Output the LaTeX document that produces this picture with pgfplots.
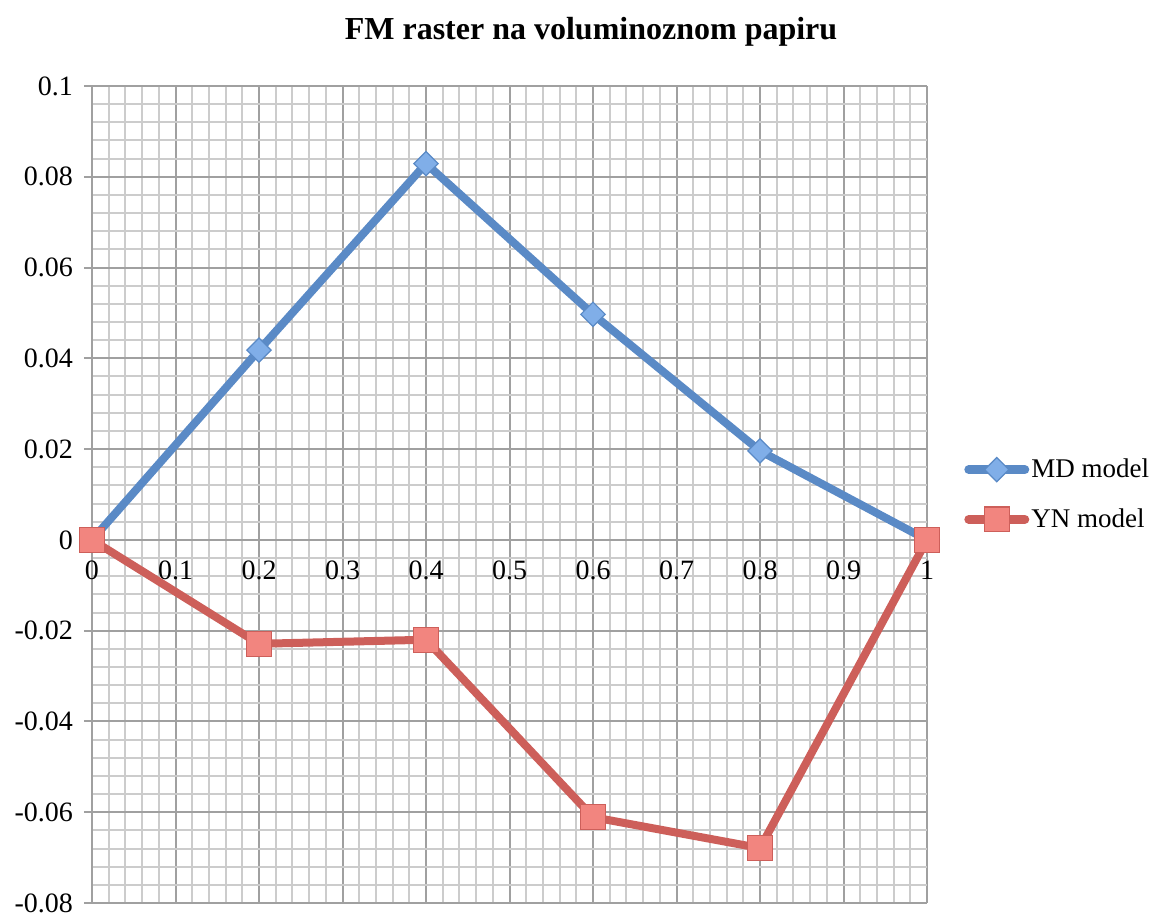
\documentclass[border=0pt]{standalone}
\usepackage{fontspec}
\setmainfont{Liberation Serif}
\usepackage{pgfplots}
\pgfplotsset{compat=1.18}
\definecolor{mdline}{HTML}{5A8AC6}
\definecolor{mdfill}{HTML}{80AEE8}
\definecolor{ynline}{HTML}{CD5F5A}
\definecolor{ynfill}{HTML}{F2857F}
\definecolor{majgrid}{HTML}{A0A0A0}
\definecolor{mingrid}{HTML}{CCCCCC}
\begin{document}
\begin{tikzpicture}
\useasboundingbox (-46pt,-8pt) rectangle (532pt,451.5pt);
\begin{axis}[
  at={(0,0)}, anchor=south west,
  scale only axis, width=417.5pt, height=408.5pt,
  xmin=0, xmax=1, ymin=-0.08, ymax=0.1,
  axis x line=middle, axis y line=left,
  axis line style={-, majgrid, line width=1pt},
  hide obscured x ticks=false, hide obscured y ticks=false,
  xtick={0,0.1,0.2,0.3,0.4,0.5,0.6,0.7,0.8,0.9,1},
  xticklabels={0,0.1,0.2,0.3,0.4,0.5,0.6,0.7,0.8,0.9,1},
  ytick={-0.08,-0.06,-0.04,-0.02,0,0.02,0.04,0.06,0.08,0.1},
  yticklabels={-0.08,-0.06,-0.04,-0.02,0,0.02,0.04,0.06,0.08,0.1},
  minor x tick num=4, minor y tick num=4,
  grid=both,
  major grid style={majgrid, line width=1pt},
  minor grid style={mingrid, line width=1pt},
  major tick length=4pt, minor tick length=0pt,
  tick style={majgrid, line width=1pt},
  xtick align=center, ytick align=outside,
  ticklabel style={font=\fontsize{14}{16}\selectfont},
  xticklabel style={yshift=-5pt},
  yticklabel style={xshift=-2pt},
  clip=false,
  legend style={at={(1.037,0.5)}, anchor=west, draw=none, fill=none,
    font=\fontsize{13.5}{16}\selectfont, row sep=10pt,
    nodes={inner xsep=1pt}},
  legend cell align=left,
  legend image code/.code={%
    \draw[#1, line width=4.5pt, line cap=round, mark repeat=2, mark phase=2] plot coordinates {(2pt,0pt) (16pt,0pt) (30pt,0pt)};},
]
\addplot[color=mdline, line width=4pt, mark=square*, mark size=4.3pt,
  mark options={rotate=45, fill=mdfill, draw=mdline, line width=0.6pt}]
  coordinates {(0,0) (0.2,0.0418) (0.4,0.0829) (0.6,0.0497) (0.8,0.0196) (1,0)};
\addlegendentry{MD model}
\addplot[color=ynline, line width=4pt, mark=square*, mark size=6.2pt,
  mark options={fill=ynfill, draw=ynline, line width=0.6pt}]
  coordinates {(0,0) (0.2,-0.0229) (0.4,-0.0220) (0.6,-0.0611) (0.8,-0.0679) (1,0)};
\addlegendentry{YN model}
\end{axis}
\node[font=\bfseries\fontsize{16}{19}\selectfont] at (249.5pt,435.5pt) {FM raster na voluminoznom papiru};
\end{tikzpicture}
\end{document}
